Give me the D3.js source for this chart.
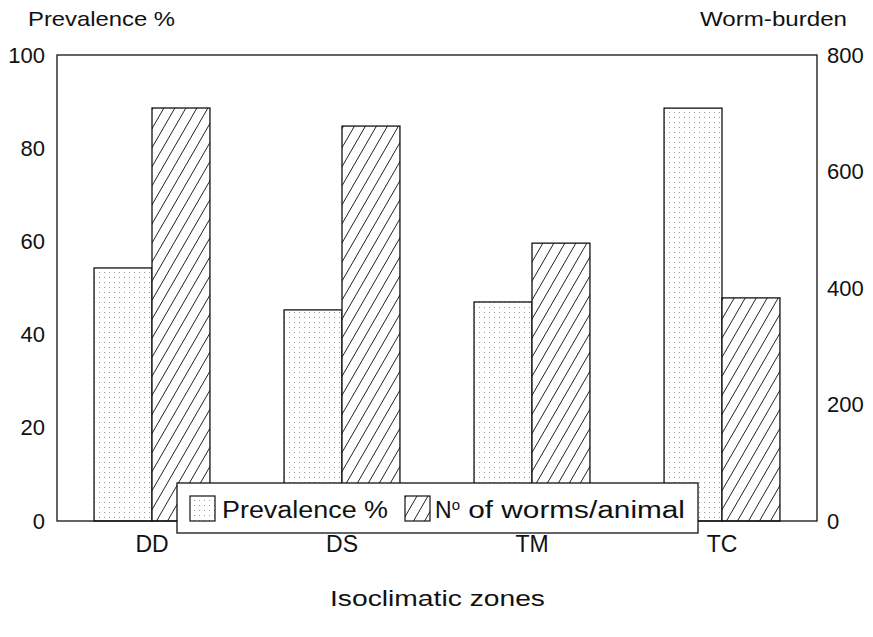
<!DOCTYPE html>
<html>
<head>
<meta charset="utf-8">
<script src="https://cdn.jsdelivr.net/npm/d3@7"></script>
<style>
  body { margin: 0; background: #fff; }
  text { font-family: "Liberation Sans", Arial, sans-serif; fill: #111; }
</style>
</head>
<body>
<div id="chart"></div>
<script>
// data
var zones = ['DD', 'DS', 'TM', 'TC'];
var prevalence = [54.3, 45.3, 47, 88.6];      // %
var worms = [709, 678, 477, 383];             // worms / animal
var leftTicks = [0, 20, 40, 60, 80, 100];
var rightTicks = [0, 200, 400, 600, 800];

var svgSize = {
    width: 873,
    height: 637,
    margin: {top: 55, right: 56, bottom: 116, left: 57}
};

var width = svgSize.width - svgSize.margin.left - svgSize.margin.right;
var height = svgSize.height - svgSize.margin.top - svgSize.margin.bottom;

var svg = d3.select('#chart').append('svg')
    .attr('width', svgSize.width)
    .attr('height', svgSize.height);

// fill patterns
var defs = svg.append('defs');
var dots = defs.append('pattern')
    .attr('id', 'dots')
    .attr('patternUnits', 'userSpaceOnUse')
    .attr('width', 5).attr('height', 5);
dots.append('rect').attr('width', 5).attr('height', 5).attr('fill', '#fff');
dots.append('rect').attr('x', 2).attr('y', 2).attr('width', 1).attr('height', 1).attr('fill', '#999');

var hatch = defs.append('pattern')
    .attr('id', 'hatch')
    .attr('patternUnits', 'userSpaceOnUse')
    .attr('width', 11).attr('height', 11)
    .attr('patternTransform', 'skewX(-30)');
hatch.append('rect').attr('width', 11).attr('height', 11).attr('fill', '#fff');
hatch.append('line')
    .attr('x1', 5.5).attr('x2', 5.5).attr('y1', 0).attr('y2', 11)
    .attr('stroke', '#222').attr('stroke-width', 1);

var g = svg.append('g')
    .attr('transform', 'translate(' + svgSize.margin.left + ',' + svgSize.margin.top + ')');

var x0 = d3.scaleBand().domain(zones).range([0, width]);
var x1 = d3.scaleBand().domain(['prev', 'worm']).range([x0.bandwidth() * 0.195, x0.bandwidth() * 0.805]);
var yL = d3.scaleLinear().domain([0, 100]).range([height, 0]);
var yR = d3.scaleLinear().domain([0, 800]).range([height, 0]);

// bars
var groups = g.selectAll('g.zone')
    .data(zones)
    .enter().append('g')
    .attr('class', 'zone')
    .attr('transform', function(d) { return 'translate(' + x0(d) + ',0)'; });

groups.append('rect')
    .attr('x', x1('prev'))
    .attr('width', x1.bandwidth())
    .attr('y', function(d, i) { return yL(prevalence[i]); })
    .attr('height', function(d, i) { return height - yL(prevalence[i]); })
    .attr('fill', 'url(#dots)')
    .attr('stroke', '#111').attr('stroke-width', 1.3);

groups.append('rect')
    .attr('x', x1('worm'))
    .attr('width', x1.bandwidth())
    .attr('y', function(d, i) { return yR(worms[i]); })
    .attr('height', function(d, i) { return height - yR(worms[i]); })
    .attr('fill', 'url(#hatch)')
    .attr('stroke', '#111').attr('stroke-width', 1.3);

// frame
g.append('rect')
    .attr('width', width).attr('height', height)
    .attr('fill', 'none').attr('stroke', '#111').attr('stroke-width', 1.3);

// axes
var axL = g.append('g')
    .call(d3.axisLeft(yL).tickValues(leftTicks).tickSize(0).tickPadding(12));
var axR = g.append('g')
    .attr('transform', 'translate(' + width + ',0)')
    .call(d3.axisRight(yR).tickValues(rightTicks).tickSize(0).tickPadding(10));
var axB = g.append('g')
    .attr('transform', 'translate(0,' + height + ')')
    .call(d3.axisBottom(x0).tickSize(0).tickPadding(15));
[axL, axR].forEach(function(a) {
    a.select('.domain').remove();
    a.selectAll('text').style('font-size', '22px').attr('fill', '#111');
});
axB.select('.domain').remove();
axB.selectAll('text').style('font-size', '23px').attr('fill', '#111');

// legend box
var legend = g.append('g').attr('transform', 'translate(120,' + (height - 38) + ')');
legend.append('rect')
    .attr('width', 521).attr('height', 50)
    .attr('fill', '#fff').attr('stroke', '#111').attr('stroke-width', 1.3);
legend.append('rect')
    .attr('x', 13).attr('y', 13).attr('width', 25).attr('height', 25)
    .attr('fill', 'url(#dots)').attr('stroke', '#111').attr('stroke-width', 1.2);
legend.append('text')
    .attr('x', 45).attr('y', 35)
    .attr('textLength', 166).attr('lengthAdjust', 'spacingAndGlyphs')
    .style('font-size', '23px')
    .text('Prevalence %');
legend.append('rect')
    .attr('x', 228).attr('y', 13).attr('width', 25).attr('height', 25)
    .attr('fill', 'url(#hatch)').attr('stroke', '#111').attr('stroke-width', 1.2);
var nt = legend.append('text')
    .attr('x', 258).attr('y', 35)
    .style('font-size', '23px');
nt.append('tspan').text('N');
nt.append('tspan').attr('dy', -8).style('font-size', '15px').text('o');
nt.append('tspan').attr('dy', 8)
    .attr('textLength', 225).attr('lengthAdjust', 'spacingAndGlyphs')
    .text(' of worms/animal');

// titles
svg.append('text')
    .attr('x', 28).attr('y', 26)
    .attr('textLength', 147).attr('lengthAdjust', 'spacingAndGlyphs')
    .style('font-size', '21px')
    .text('Prevalence %');
svg.append('text')
    .attr('x', 700).attr('y', 26)
    .attr('textLength', 147).attr('lengthAdjust', 'spacingAndGlyphs')
    .style('font-size', '21px')
    .text('Worm-burden');
svg.append('text')
    .attr('x', 330).attr('y', 606)
    .attr('textLength', 215).attr('lengthAdjust', 'spacingAndGlyphs')
    .style('font-size', '22px')
    .text('Isoclimatic zones');
</script>
</body>
</html>
